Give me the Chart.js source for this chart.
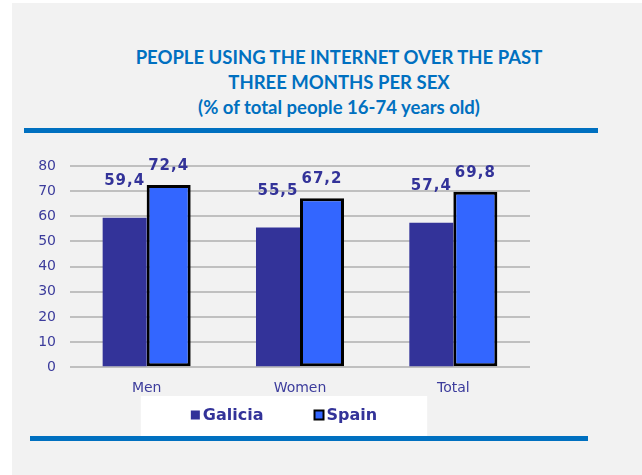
<!DOCTYPE html>
<html>
<head>
<meta charset="utf-8">
<script src="https://cdn.jsdelivr.net/npm/chart.js@4.4.1/dist/chart.umd.min.js"></script>
<style>
  body { margin: 0; background: #fff; width: 642px; height: 475px; overflow: hidden; position: relative; }
  #bg { position: absolute; left: 12px; top: 3px; width: 630px; height: 472px; background: #f2f2f2; }
  #title { position: absolute; left: 39px; top: 45px; width: 600px; text-align: center;
           font: 700 18.5px Lato, sans-serif; line-height: 25px; color: #0070c0; }
  .rule { position: absolute; background: #0070c0; height: 5px; }
  #wrap { position: absolute; left: 0; top: 140px; width: 642px; height: 296px; }
</style>
</head>
<body>
<div id="bg"></div>
<div id="title">PEOPLE USING THE INTERNET OVER THE PAST<br>THREE MONTHS PER SEX<br>(% of total people 16-74 years old)</div>
<div class="rule" style="left:24px; top:128px; width:574px;"></div>
<div id="wrap"><canvas id="chart"></canvas></div>
<div class="rule" style="left:30px; top:436px; width:558px;"></div>
<script>
const categories = ["Men", "Women", "Total"];
const galicia = [59.4, 55.5, 57.4];
const spain = [72.4, 67.2, 69.8];
const yTicks = [0, 10, 20, 30, 40, 50, 60, 70, 80];

// values drawn above the bars, Galicia sits higher above its bar than Spain
const labelOffsets = [37, 19];

const valueLabels = {
    id: "valueLabels",
    afterDatasetsDraw(chart) {
        const ctx = chart.ctx;
        ctx.save();
        ctx.font = "bold 15px 'DejaVu Sans'";
        ctx.letterSpacing = "1px";
        ctx.fillStyle = "#333399";
        ctx.textAlign = "center";
        ctx.textBaseline = "middle";
        chart.data.datasets.forEach((ds, i) => {
            chart.getDatasetMeta(i).data.forEach((bar, j) => {
                ctx.fillText(ds.data[j].toFixed(1).replace(".", ","), bar.x, bar.y - labelOffsets[i]);
            });
        });
        ctx.restore();
    }
};

// legend in a white panel under the axis, squares close to their text
const panelLegend = {
    id: "panelLegend",
    afterDraw(chart) {
        const ctx = chart.ctx;
        const centerX = 284;
        const centerY = 275;
        const box = 9, gap = 3, itemGap = 51;
        ctx.save();
        ctx.font = "bold 16px 'DejaVu Sans'";
        const items = chart.data.datasets.map(ds => ({ ds, w: ctx.measureText(ds.label).width }));
        const total = items.reduce((s, it) => s + box + gap + it.w, 0) + itemGap * (items.length - 1);
        let x = centerX - total / 2;
        ctx.fillStyle = "#ffffff";
        ctx.fillRect(x - 50, centerY - 19, total + 100, 40);
        ctx.textBaseline = "middle";
        items.forEach(it => {
            ctx.fillStyle = it.ds.backgroundColor;
            ctx.fillRect(x, centerY - box / 2, box, box);
            if (it.ds.borderWidth) {
                ctx.lineWidth = 2;
                ctx.strokeStyle = it.ds.borderColor;
                ctx.strokeRect(x, centerY - box / 2, box, box);
            }
            ctx.fillStyle = "#333399";
            ctx.fillText(it.ds.label, x + box + gap, centerY + 1);
            x += box + gap + it.w + itemGap;
        });
        ctx.restore();
    }
};

new Chart(document.getElementById("chart"), {
    type: "bar",
    data: {
        labels: categories,
        datasets: [
            {
                label: "Galicia",
                data: galicia,
                backgroundColor: "#333399",
                borderWidth: 0
            },
            {
                label: "Spain",
                data: spain,
                backgroundColor: "#3366ff",
                borderColor: "#000000",
                borderWidth: 3,
                borderSkipped: false
            }
        ]
    },
    options: {
        responsive: true,
        maintainAspectRatio: false,
        animation: false,
        datasets: { bar: { barPercentage: 1, categoryPercentage: 0.574 } },
        layout: { padding: { left: 38, right: 112, top: 26, bottom: 26 } },
        plugins: {
            legend: { display: false },
            tooltip: { enabled: false },
            title: { display: false }
        },
        scales: {
            x: {
                grid: { display: false, drawTicks: false },
                border: { display: false },
                ticks: { color: "#3c3c9c", font: { family: "'DejaVu Sans'", size: 14 }, padding: 13 }
            },
            y: {
                min: 0,
                max: 80,
                afterBuildTicks: (scale) => { scale.ticks = yTicks.map(v => ({ value: v })); },
                afterFit: (scale) => { scale.width = 32; },
                grid: { color: "#c0c0c0", lineWidth: 2, drawTicks: false },
                border: { display: false },
                ticks: { color: "#3c3c9c", font: { family: "'DejaVu Sans'", size: 14 }, padding: 14 }
            }
        }
    },
    plugins: [valueLabels, panelLegend]
});
</script>
</body>
</html>
